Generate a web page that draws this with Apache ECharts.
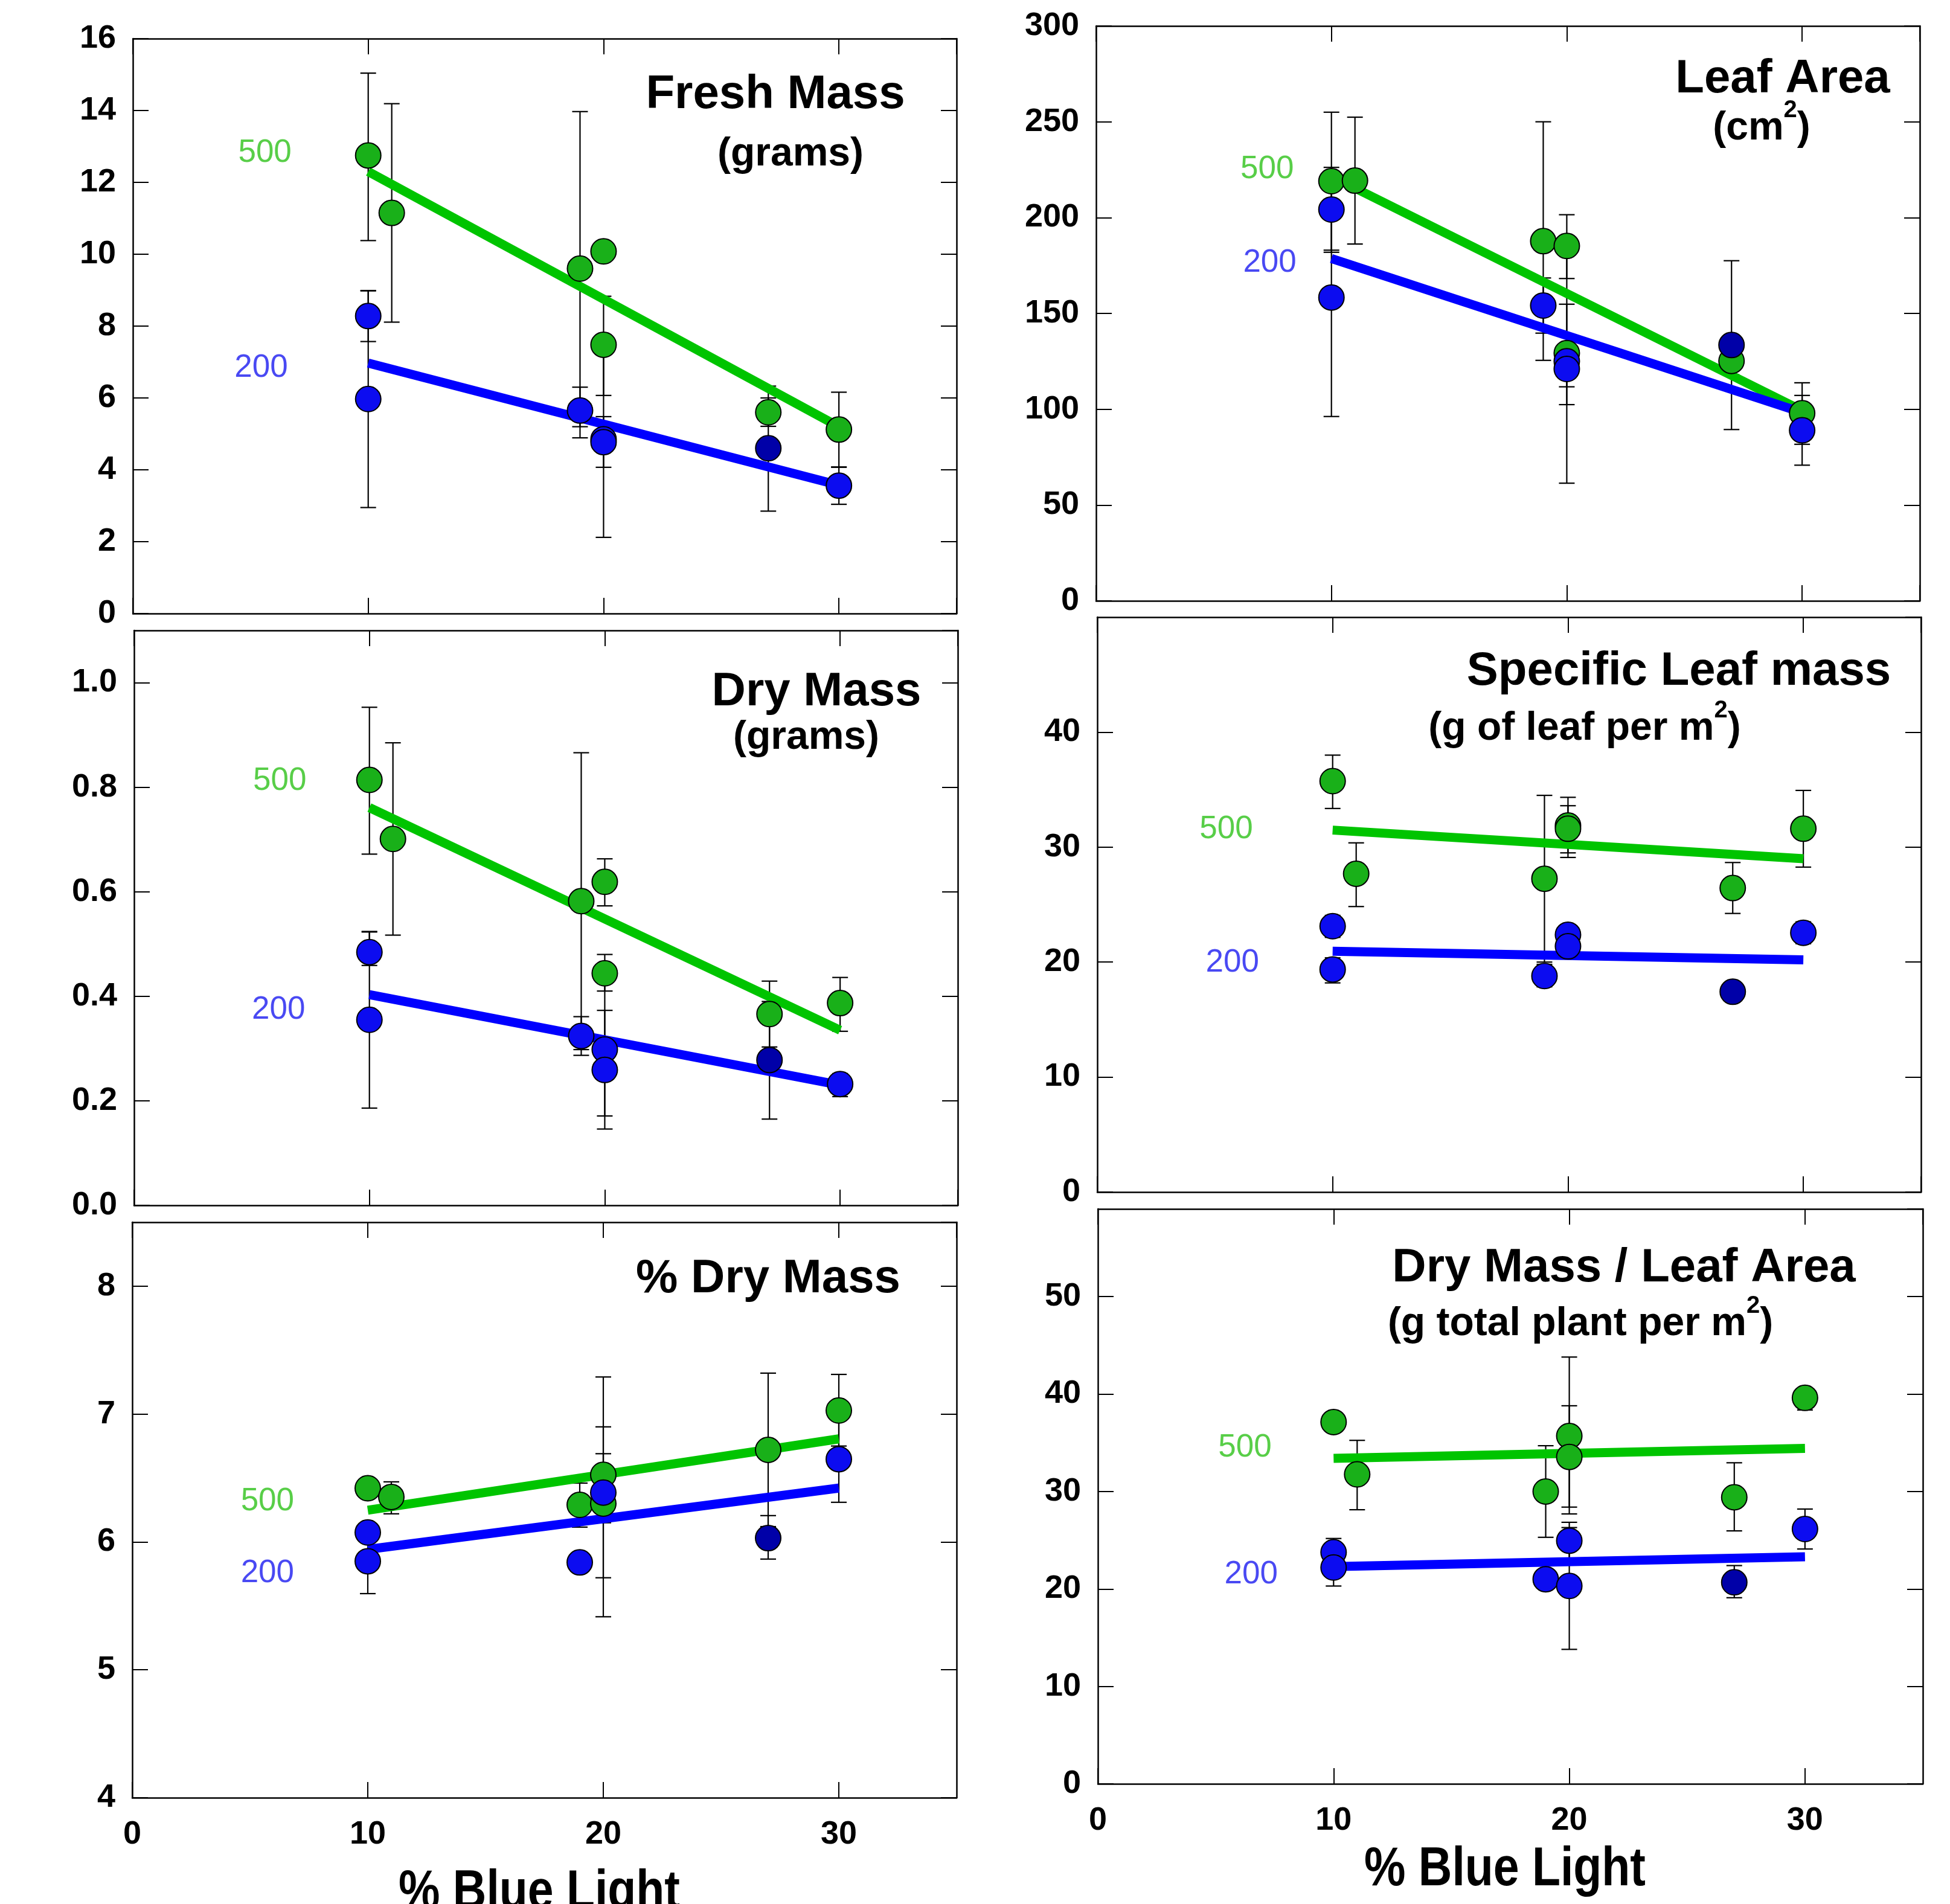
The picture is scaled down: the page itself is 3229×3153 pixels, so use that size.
<!DOCTYPE html>
<html><head><meta charset="utf-8">
<script src="https://cdn.jsdelivr.net/npm/echarts@6/dist/echarts.min.js"></script>
<style>html,body{margin:0;padding:0;background:#fff}#c{width:3229px;height:3153px}</style>
</head><body><div id="c"></div>
<script>
const FONT = '"Liberation Sans", Arial, Helvetica, sans-serif';

// ---------- Panel 1: Fresh Mass ----------
const fmGreen = [[10,12.75],[11,11.15],[19,9.6],[20,10.08],[20,7.48],[27,5.6],[30,5.12]];
const fmGreenErr = [[10,10.38,15.04],[11,8.11,14.19],[19,5.2,13.97],[20,9.85,10.3],[20,6.07,8.83],[27,5.21,6.0],[30,4.08,6.16]];
const fmBlue = [[10,8.28],[10,5.97],[19,5.65],[20,4.85],[20,4.77],[27,4.6],[30,3.56]];
const fmBlueErr = [[10,7.57,8.98],[10,2.95,8.99],[19,4.89,6.3],[20,2.12,7.48],[20,4.07,5.48],[27,2.85,6.33],[30,3.04,4.07]];
const fmFitGreen = [[10,12.3],[30,5.2]];
const fmFitBlue = [[10,6.97],[30,3.57]];

// ---------- Panel 2: Leaf Area ----------
const laGreen = [[10,219],[11,219.3],[19,187.7],[20,185.2],[20,129.3],[27,125.2],[30,97.9]];
const laGreenErr = [[10,183,255],[11,186.2,252.4],[19,125.5,250],[20,168.2,201.5],[20,102.4,154.8],[27,118,132],[30,81.7,113.8]];
const laBlue = [[10,204.2],[10,158.3],[19,154.1],[20,125],[20,121],[27,133.5],[30,89]];
const laBlueErr = [[10,181.9,226.2],[10,96.2,220.4],[19,139.7,168.5],[20,111.7,138],[20,61.4,181],[27,89.4,177.5],[30,70.8,107.2]];
const laFitGreen = [[10,221.5],[30,99.3]];
const laFitBlue = [[10,178.6],[30,98.3]];

// ---------- Panel 3: Dry Mass ----------
const dmGreen = [[10,0.814],[11,0.701],[19,0.582],[20,0.619],[20,0.444],[27,0.366],[30,0.387]];
const dmGreenErr = [[10,0.672,0.953],[11,0.517,0.885],[19,0.298,0.866],[20,0.573,0.663],[20,0.41,0.48],[27,0.303,0.429],[30,0.333,0.436]];
const dmBlue = [[10,0.4845],[10,0.355],[19,0.324],[20,0.298],[20,0.259],[27,0.278],[30,0.232]];
const dmBlueErr = [[10,0.459,0.523],[10,0.186,0.524],[19,0.287,0.361],[20,0.171,0.425],[20,0.146,0.373],[27,0.165,0.39],[30,0.208,0.252]];
const dmFitGreen = [[10,0.761],[30,0.335]];
const dmFitBlue = [[10,0.403],[30,0.230]];

// ---------- Panel 4: Specific Leaf mass ----------
const slGreen = [[10,35.74],[11,27.68],[19,27.25],[20,31.88],[20,31.6],[27,26.44],[30,31.6]];
const slGreenErr = [[10,33.36,38.0],[11,24.83,30.37],[19,20.0,34.5],[20,29.5,34.33],[20,29.1,33.6],[27,24.23,28.66],[30,28.26,34.93]];
const slBlue = [[10,23.12],[10,19.36],[19,18.79],[20,22.38],[20,21.37],[27,17.42],[30,22.55]];
const slBlueErr = [[10,22.15,24.06],[10,18.19,20.37],[19,17.85,19.8],[20,21.6,23.15],[20,20.5,22.3],[27,17.0,17.8],[30,21.6,23.5]];
const slFitGreen = [[10,31.48],[30,28.99]];
const slFitBlue = [[10,20.94],[30,20.2]];

// ---------- Panel 5: % Dry Mass ----------
const pdGreen = [[10,6.42],[11,6.352],[19,6.29],[20,6.525],[20,6.30],[27,6.72],[30,7.028]];
const pdGreenErr = [[10,6.37,6.47],[11,6.22,6.47],[19,6.116,6.46],[20,6.15,6.90],[20,5.415,7.29],[27,6.12,7.32],[30,6.75,7.31]];
const pdBlue = [[10,6.074],[10,5.849],[19,5.84],[20,6.386],[27,6.03],[30,6.647]];
const pdBlueErr = [[10,6.04,6.11],[10,5.596,6.1],[19,5.8,5.88],[20,5.72,6.69],[27,5.866,6.206],[30,6.31,6.98]];
const pdFitGreen = [[10,6.248],[30,6.806]];
const pdFitBlue = [[10,5.942],[30,6.421]];

// ---------- Panel 6: Dry Mass / Leaf Area ----------
const daGreen = [[10,37.13],[11,31.76],[19,30.0],[20,35.7],[20,33.55],[27,29.41],[30,39.61]];
const daGreenErr = [[10,36.6,37.7],[11,28.13,35.25],[19,25.3,34.7],[20,27.7,43.8],[20,28.4,38.8],[27,25.96,32.95],[30,38.37,40.58]];
const daBlue = [[10,23.76],[10,22.2],[19,21.0],[20,24.95],[20,20.31],[27,20.68],[30,26.15]];
const daBlueErr = [[10,22.4,25.18],[10,20.3,24.1],[19,20.6,21.4],[20,23.05,26.84],[20,13.8,26.3],[27,19.1,22.4],[30,24.1,28.2]];
const daFitGreen = [[10,33.41],[30,34.42]];
const daFitBlue = [[10,22.29],[30,23.3]];

// series name labels ("500" / "200") anchored in data coordinates
const lbl500 = [[5.61,12.82],[7.27,225.2],[6.19,0.812],[5.48,31.52],[5.74,6.318],[6.24,34.5]];
const lbl200 = [[5.45,6.83],[7.38,176.5],[6.14,0.374],[5.74,19.95],[5.74,5.754],[6.5,21.5]];

// axis scales
const xTicks = {min:0, max:35, interval:10};
const yRanges = [
  {min:0, max:16, interval:2, showMax:true, dec:0},
  {min:0, max:300, interval:50, showMax:true, dec:0},
  {min:0, max:1.1, interval:0.2, showMax:false, dec:1},
  {min:0, max:50, interval:10, showMax:false, dec:0},
  {min:4, max:8.5, interval:1, showMax:false, dec:0},
  {min:0, max:59, interval:10, showMax:false, dec:0}
];

const panels = [
  {g:fmGreen, ge:fmGreenErr, b:fmBlue, be:fmBlueErr, fg:fmFitGreen, fb:fmFitBlue},
  {g:laGreen, ge:laGreenErr, b:laBlue, be:laBlueErr, fg:laFitGreen, fb:laFitBlue},
  {g:dmGreen, ge:dmGreenErr, b:dmBlue, be:dmBlueErr, fg:dmFitGreen, fb:dmFitBlue},
  {g:slGreen, ge:slGreenErr, b:slBlue, be:slBlueErr, fg:slFitGreen, fb:slFitBlue},
  {g:pdGreen, ge:pdGreenErr, b:pdBlue, be:pdBlueErr, fg:pdFitGreen, fb:pdFitBlue},
  {g:daGreen, ge:daGreenErr, b:daBlue, be:daBlueErr, fg:daFitGreen, fb:daFitBlue}
];

const gridBoxes = [
  {left:220, top:64, width:1364, height:952},
  {left:1815, top:43, width:1364, height:952},
  {left:222, top:1044, width:1364, height:952},
  {left:1817, top:1022, width:1364, height:952},
  {left:219, top:2024, width:1365, height:953},
  {left:1818, top:2002, width:1366, height:952}
];

const GREEN_FILL = '#19b019', GREEN_LINE = '#00c400', GREEN_TXT = '#2ec21a';
const BLUE_FILL = '#0c0cf0', BLUE_DARK = '#0000a8', BLUE_LINE = '#0000ff', BLUE_TXT = '#1c1cf0';

const axisLine = {show:true, onZero:false, lineStyle:{color:'#000', width:2.5}};
const axisTick = {show:true, inside:true, length:26, lineStyle:{color:'#000', width:2}};
const labelBase = {fontSize:54, fontWeight:'bold', color:'#000', fontFamily:FONT};

const grid = [], xAxis = [], yAxis = [], series = [];

function errRender(params, api) {
  const x = api.value(0), lo = api.value(1), hi = api.value(2);
  const t = api.coord([x, hi]), b = api.coord([x, lo]);
  const hw = 13, st = {stroke:'#000', lineWidth:2.2};
  return {type:'group', children:[
    {type:'line', shape:{x1:t[0], y1:t[1], x2:b[0], y2:b[1]}, style:st},
    {type:'line', shape:{x1:t[0]-hw, y1:t[1], x2:t[0]+hw, y2:t[1]}, style:st},
    {type:'line', shape:{x1:b[0]-hw, y1:b[1], x2:b[0]+hw, y2:b[1]}, style:st}
  ]};
}

panels.forEach((p, i) => {
  grid.push(Object.assign({containLabel:false}, gridBoxes[i]));
  const r = yRanges[i];
  const showX = i >= 4;
  xAxis.push({gridIndex:i, type:'value', position:'bottom', min:xTicks.min, max:xTicks.max, interval:xTicks.interval,
    axisLine, axisTick, splitLine:{show:false},
    axisLabel:Object.assign({show:showX, showMaxLabel:false, margin:34}, labelBase)});
  xAxis.push({gridIndex:i, type:'value', position:'top', min:xTicks.min, max:xTicks.max, interval:xTicks.interval,
    axisLine, axisTick, splitLine:{show:false}, axisLabel:{show:false}});
  yAxis.push({gridIndex:i, type:'value', position:'left', min:r.min, max:r.max, interval:r.interval,
    axisLine, axisTick, splitLine:{show:false},
    axisLabel:Object.assign({show:true, showMaxLabel:r.showMax, showMinLabel:true, margin:28,
      formatter: v => Number(v).toFixed(r.dec)}, labelBase)});
  yAxis.push({gridIndex:i, type:'value', position:'right', min:r.min, max:r.max, interval:r.interval,
    axisLine, axisTick, splitLine:{show:false}, axisLabel:{show:false}});
  const xi = 2*i, yi = 2*i;
  [p.ge, p.be].forEach(errs => {
    series.push({type:'custom', xAxisIndex:xi, yAxisIndex:yi, renderItem:errRender, data:errs,
      encode:{x:0, y:[1,2]}, z:2, silent:true, clip:false});
  });
  series.push({type:'line', xAxisIndex:xi, yAxisIndex:yi, data:p.fg, symbol:'none',
    lineStyle:{color:GREEN_LINE, width:15, cap:'butt'}, z:3, silent:true});
  series.push({type:'line', xAxisIndex:xi, yAxisIndex:yi, data:p.fb, symbol:'none',
    lineStyle:{color:BLUE_LINE, width:15, cap:'butt'}, z:3, silent:true});
  series.push({type:'scatter', xAxisIndex:xi, yAxisIndex:yi, data:p.g, symbol:'circle', symbolSize:42,
    itemStyle:{color:GREEN_FILL, borderColor:'#000', borderWidth:2, opacity:1}, z:4});
  series.push({type:'scatter', xAxisIndex:xi, yAxisIndex:yi, data:p.b, symbol:'circle', symbolSize:42,
    itemStyle:{color: prm => prm.value[0] === 27 ? BLUE_DARK : BLUE_FILL, borderColor:'#000', borderWidth:2, opacity:1}, z:4});
  series.push({type:'scatter', xAxisIndex:xi, yAxisIndex:yi, data:[lbl500[i]], symbolSize:1,
    itemStyle:{color:'rgba(0,0,0,0)'}, z:5, silent:true,
    label:{show:true, position:'inside', formatter:'500', fontSize:53, fontFamily:FONT, color:GREEN_TXT}});
  series.push({type:'scatter', xAxisIndex:xi, yAxisIndex:yi, data:[lbl200[i]], symbolSize:1,
    itemStyle:{color:'rgba(0,0,0,0)'}, z:5, silent:true,
    label:{show:true, position:'inside', formatter:'200', fontSize:53, fontFamily:FONT, color:BLUE_TXT}});
});

function txt(text, x, y, size, extra) {
  const st = {text, x:0, y:0, font:'bold ' + size + 'px ' + FONT, fill:'#000', align:'center', verticalAlign:'middle'};
  if (extra && extra.sup) {
    st.lineHeight = size + 34;
    st.rich = {s:{fontSize:Math.round(size*0.6), fontWeight:'bold', fontFamily:FONT, fill:'#000', verticalAlign:'top', lineHeight:Math.round(size*0.6)}};
  }
  return {type:'text', x, y, scaleX:(extra && extra.sx) || 1, style:st, z:10};
}

const graphic = [
  txt('Fresh Mass', 1284, 157, 78),
  txt('(grams)', 1309, 256, 66),
  txt('Leaf Area', 2952, 131, 78),
  txt('(cm{s|2})', 2917, 213, 66, {sup:true}),
  txt('Dry Mass', 1352, 1146, 78),
  txt('(grams)', 1335, 1222, 66),
  txt('Specific Leaf mass', 2780, 1112, 78),
  txt('(g of leaf per m{s|2})', 2624, 1207, 66, {sup:true}),
  txt('% Dry Mass', 1272, 2118, 78),
  txt('Dry Mass / Leaf Area', 2689, 2100, 78),
  txt('(g total plant per m{s|2})', 2617, 2193, 66, {sup:true}),
  txt('% Blue Light', 893, 3135, 90, {sx:0.855}),
  txt('% Blue Light', 2492, 3097, 90, {sx:0.855})
];

const chart = echarts.init(document.getElementById('c'), null, {renderer:'canvas'});
chart.setOption({animation:false, backgroundColor:'#fff', grid, xAxis, yAxis, series, graphic});
</script></body></html>
